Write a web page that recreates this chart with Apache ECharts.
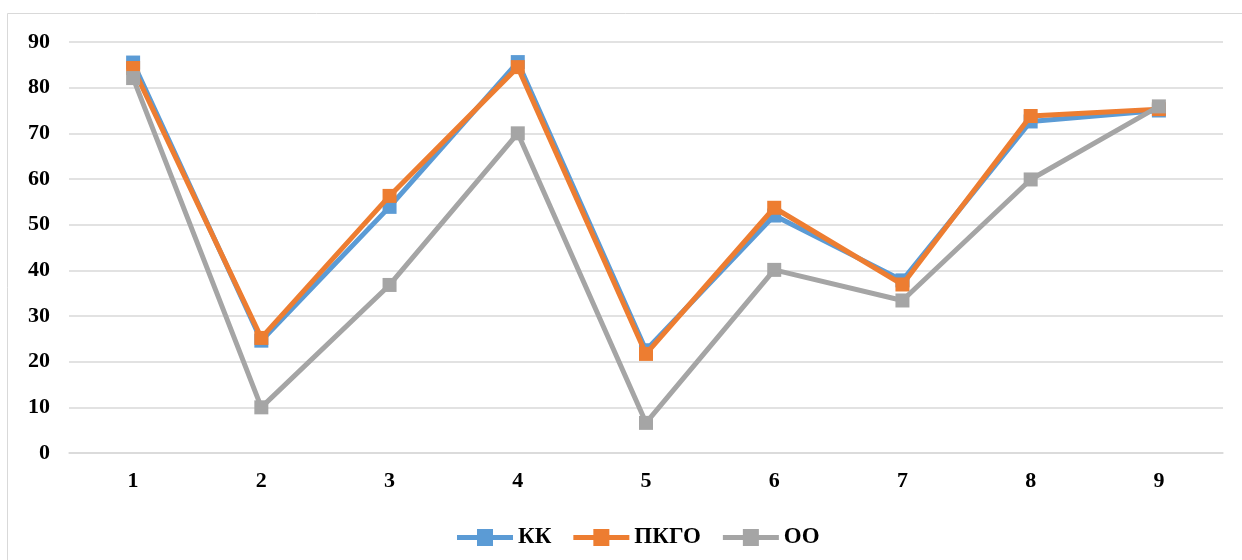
<!DOCTYPE html>
<html>
<head>
<meta charset="utf-8">
<script src="https://cdn.jsdelivr.net/npm/echarts@6/dist/echarts.min.js"></script>
<style>html,body{margin:0;padding:0;background:#fff;}#c{width:1242px;height:560px;}</style>
</head>
<body>
<div id="c"></div>
<script>
const categories = ['1','2','3','4','5','6','7','8','9'];
const seriesNames = ['КК','ПКГО','ОО'];
const kk = [85.5, 24.6, 53.9, 85.6, 22.5, 52.0, 37.8, 72.6, 75.0];
const pkgo = [84.3, 25.2, 56.3, 84.5, 21.7, 53.7, 36.9, 73.8, 75.3];
const oo = [82.1, 10.0, 36.8, 70.0, 6.6, 40.1, 33.4, 59.9, 75.9];
const colors = ['#5B9BD5', '#ED7D31', '#A5A5A5'];
const values = [kk, pkgo, oo];

const font = 'Liberation Serif';
// legend icon: thick line with a square marker in the middle
const legendIcon = 'path://M0,6 L20,6 L20,0 L36,0 L36,6 L56,6 L56,11 L36,11 L36,17 L20,17 L20,11 L0,11 Z';
const chart = echarts.init(document.getElementById('c'), null, {renderer: 'canvas'});
chart.setOption({
  animation: false,
  backgroundColor: '#fff',
  graphic: [{
    type: 'rect', silent: true,
    shape: {x: 7.5, y: 13.5, width: 1300, height: 600},
    style: {fill: 'none', stroke: '#d9d9d9', lineWidth: 1}
  }],
  grid: {left: 69, right: 19, top: 42, bottom: 107, containLabel: false},
  legend: {
    data: seriesNames.map(n => ({name: n, icon: legendIcon})),
    top: 521,
    left: 452,
    itemWidth: 56,
    itemHeight: 17,
    itemGap: 22,
    textStyle: {fontFamily: font, fontWeight: 'bold', fontSize: 23, color: '#000'}
  },
  xAxis: {
    type: 'category',
    data: categories,
    boundaryGap: true,
    axisLine: {show: true, lineStyle: {color: '#d9d9d9', width: 1.5}},
    axisTick: {show: false},
    axisLabel: {fontFamily: font, fontWeight: 'bold', fontSize: 22, color: '#000', margin: 17}
  },
  yAxis: {
    type: 'value',
    min: 0, max: 90, interval: 10,
    axisLine: {show: false},
    axisTick: {show: false},
    splitLine: {lineStyle: {color: '#d9d9d9', width: 1.5}},
    axisLabel: {fontFamily: font, fontWeight: 'bold', fontSize: 22, color: '#000', margin: 19}
  },
  series: seriesNames.map((n, i) => ({
    name: n,
    type: 'line',
    data: values[i],
    symbol: 'rect',
    symbolSize: 14,
    showAllSymbol: true,
    itemStyle: {color: colors[i]},
    lineStyle: {color: colors[i], width: 5, cap: 'round'},
    z: 2 + i
  }))
});
</script>
</body>
</html>
